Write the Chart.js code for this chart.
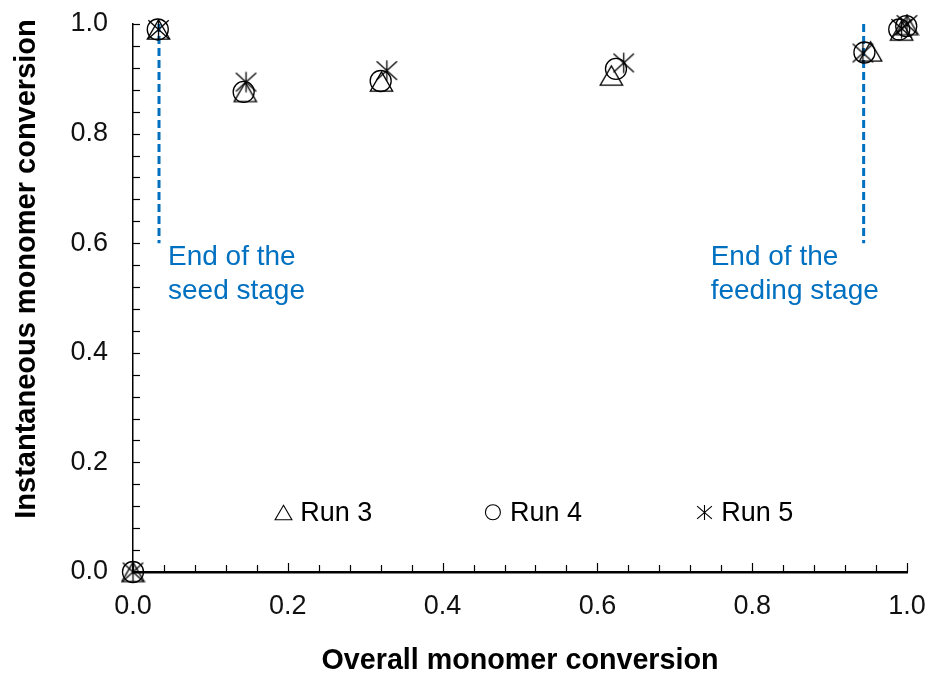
<!DOCTYPE html>
<html>
<head>
<meta charset="utf-8">
<script src="https://cdn.jsdelivr.net/npm/chart.js@4/dist/chart.umd.min.js"></script>
<style>
  html, body { margin: 0; padding: 0; background: #fff; }
  canvas { display: block; }
</style>
</head>
<body>
<canvas id="chart" width="935" height="673"></canvas>
<script>
// Overall conversion (x) and instantaneous conversion (y) for each run
const run3X = [0, 0.033, 0.145, 0.321, 0.618, 0.953, 0.993, 1.000];
const run3Y = [0, 0.990, 0.876, 0.895, 0.906, 0.950, 0.988, 0.998];
const run4X = [0, 0.032, 0.143, 0.320, 0.624, 0.945, 0.990, 0.999];
const run4Y = [0, 0.990, 0.876, 0.896, 0.918, 0.948, 0.990, 0.996];
const run5X = [0, 0.033, 0.146, 0.328, 0.634, 0.943, 0.993, 1.000];
const run5Y = [0, 0.990, 0.894, 0.915, 0.929, 0.947, 0.992, 0.999];
const seriesNames = ['Run 3', 'Run 4', 'Run 5'];

// Stage boundaries (overall conversion) and the span of their marker lines
const stageEndX = [0.0336, 0.944];
const stageLineY = [0.6, 1.0];
const stageLabels = [['End of the', 'seed stage'], ['End of the', 'feeding stage']];

// Axis tick labels
const xTickLabels = ['0.0', '0.2', '0.4', '0.6', '0.8', '1.0'];
const yTickLabels = ['0.0', '0.2', '0.4', '0.6', '0.8', '1.0'];
const minorStep = 0.04;

const FONT = "'Liberation Sans', Arial, sans-serif";
const BLUE = '#0070C0';

function toPoints(xs, ys) { return xs.map((x, i) => ({ x: x, y: ys[i] })); }

// Marker bitmaps: open triangle and Excel-style asterisk (X with a vertical stroke)
function makeMarker(kind, size, lw) {
  const c = document.createElement('canvas');
  c.width = size; c.height = size;
  const g = c.getContext('2d');
  g.strokeStyle = '#000';
  g.lineWidth = lw;
  g.lineJoin = 'miter';
  const h = size / 2;
  g.beginPath();
  if (kind === 'triangle') {
    const w = size - 2 * lw;
    const th = w * 0.866;
    const top = h - th / 2, bot = h + th / 2;
    g.moveTo(h, top);
    g.lineTo(h + w / 2, bot);
    g.lineTo(h - w / 2, bot);
    g.closePath();
  } else {
    const m = lw;
    g.moveTo(h, m); g.lineTo(h, size - m);
    g.moveTo(m, m + 1); g.lineTo(size - m, size - m - 1);
    g.moveTo(size - m, m + 1); g.lineTo(m, size - m - 1);
  }
  g.stroke();
  return c;
}

const triBig = makeMarker('triangle', 25, 1.3);
const starBig = makeMarker('star', 23, 1.3);
const triSmall = makeMarker('triangle', 19, 1.1);
const starSmall = makeMarker('star', 17, 1.1);

// Inward minor/major tick marks along both axes
const tickMarks = {
  id: 'tickMarks',
  afterDraw(chart) {
    const { ctx, chartArea: a, scales: { x, y } } = chart;
    ctx.save();
    ctx.strokeStyle = '#000';
    ctx.lineWidth = 1.2;
    const n = Math.round(1 / minorStep);
    for (let i = 0; i <= n; i++) {
      const v = i * minorStep;
      const major = Math.abs(v / 0.2 - Math.round(v / 0.2)) < 1e-6;
      const px = Math.round(x.getPixelForValue(v)) + 0.5;
      ctx.beginPath();
      ctx.moveTo(px, a.bottom);
      ctx.lineTo(px, a.bottom - (major ? 9 : 7));
      ctx.stroke();
      const py = Math.round(y.getPixelForValue(v)) + 0.5;
      ctx.beginPath();
      ctx.moveTo(a.left, py);
      ctx.lineTo(a.left + 7, py);
      ctx.stroke();
    }
    ctx.restore();
  }
};

// Stage annotations, in-plot legend and axis titles
const decorations = {
  id: 'decorations',
  afterDraw(chart) {
    const { ctx, chartArea: a, scales: { x, y } } = chart;
    ctx.save();

    // stage annotation text
    ctx.fillStyle = BLUE;
    ctx.font = '28px ' + FONT;
    ctx.textBaseline = 'middle';
    ctx.textAlign = 'left';
    const lx0 = x.getPixelForValue(stageEndX[0]) + 9;
    const lx1 = x.getPixelForValue(stageEndX[1]) - 153;
    const ty = y.getPixelForValue(stageLineY[0]) + 14;
    stageLabels[0].forEach((t, i) => ctx.fillText(t, lx0, ty + i * 34));
    stageLabels[1].forEach((t, i) => ctx.fillText(t, lx1, ty + i * 34));

    // legend
    const legX = [0.194, 0.465, 0.738];
    const legY = y.getPixelForValue(0.109);
    ctx.fillStyle = '#000';
    ctx.font = '27px ' + FONT;
    seriesNames.forEach((name, i) => {
      const cx = x.getPixelForValue(legX[i]);
      if (i === 0) ctx.drawImage(triSmall, Math.round(cx - triSmall.width / 2), Math.round(legY - triSmall.height / 2));
      if (i === 1) {
        ctx.strokeStyle = '#000'; ctx.lineWidth = 1.1;
        ctx.beginPath(); ctx.arc(cx, legY, 7.5, 0, Math.PI * 2); ctx.stroke();
      }
      if (i === 2) ctx.drawImage(starSmall, Math.round(cx - starSmall.width / 2), Math.round(legY - starSmall.height / 2));
      ctx.fillText(name, cx + 17, legY + 1);
    });

    // axis titles
    ctx.font = 'bold 28.7px ' + FONT;
    ctx.textAlign = 'center';
    ctx.fillText('Overall monomer conversion', (a.left + a.right) / 2, 661);
    ctx.font = 'bold 29px ' + FONT;
    ctx.translate(27, 269);
    ctx.rotate(-Math.PI / 2);
    ctx.fillText('Instantaneous monomer conversion', 0, 0);
    ctx.restore();
  }
};

const markerCommon = {
  showLine: false,
  borderColor: '#000',
  backgroundColor: 'rgba(0,0,0,0)',
  clip: false,
  order: 1
};

new Chart(document.getElementById('chart'), {
  type: 'scatter',
  data: {
    datasets: [
      Object.assign({ label: seriesNames[0], data: toPoints(run3X, run3Y), pointStyle: triBig, pointRadius: 11 }, markerCommon),
      Object.assign({ label: seriesNames[1], data: toPoints(run4X, run4Y), pointStyle: 'circle', pointRadius: 10.5, pointBorderWidth: 1.3 }, markerCommon),
      Object.assign({ label: seriesNames[2], data: toPoints(run5X, run5Y), pointStyle: starBig, pointRadius: 11 }, markerCommon),
      {
        label: 'seed end', type: 'line',
        data: [{ x: stageEndX[0], y: stageLineY[1] }, { x: stageEndX[0], y: stageLineY[0] }],
        borderColor: BLUE, borderWidth: 3, borderDash: [8, 4], pointRadius: 0, order: 5, clip: false
      },
      {
        label: 'feed end', type: 'line',
        data: [{ x: stageEndX[1], y: stageLineY[1] }, { x: stageEndX[1], y: stageLineY[0] }],
        borderColor: BLUE, borderWidth: 3, borderDash: [8, 4], pointRadius: 0, order: 5, clip: false
      }
    ]
  },
  options: {
    responsive: false,
    animation: false,
    layout: { autoPadding: false, padding: { top: 24, right: 28, left: 0, bottom: 0 } },
    plugins: { legend: { display: false }, tooltip: { enabled: false } },
    scales: {
      x: {
        type: 'linear', min: 0, max: 1,
        afterFit: (s) => { s.height = 101; s.paddingLeft = 0; s.paddingRight = 0; },
        grid: { display: false, drawTicks: false },
        border: { display: true, color: '#000', width: 2.5 },
        ticks: {
          stepSize: 0.2, padding: 18, color: '#111', maxRotation: 0,
          font: { family: FONT, size: 27 },
          callback: (v, i) => xTickLabels[i]
        }
      },
      y: {
        type: 'linear', min: 0, max: 1,
        afterFit: (s) => { s.width = 133; s.paddingTop = 0; s.paddingBottom = 0; },
        grid: { display: false, drawTicks: false },
        border: { display: true, color: '#000', width: 1.5 },
        ticks: {
          stepSize: 0.2, padding: 25, color: '#111',
          font: { family: FONT, size: 27 },
          callback: (v, i) => yTickLabels[i]
        }
      }
    }
  },
  plugins: [tickMarks, decorations]
});
</script>
</body>
</html>
